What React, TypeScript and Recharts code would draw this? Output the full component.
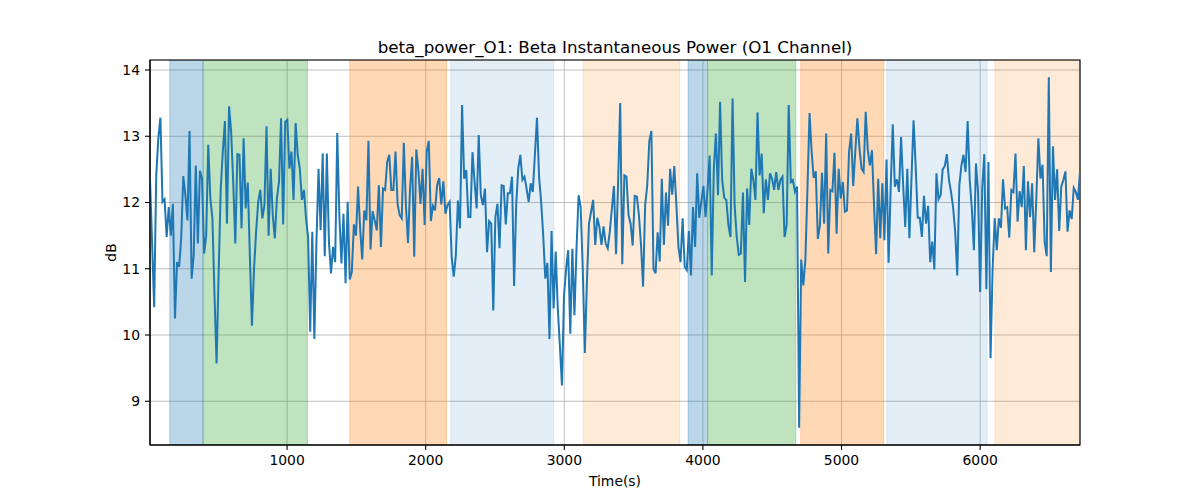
import React from "react";
import {
  ComposedChart,
  Line,
  XAxis,
  YAxis,
  CartesianGrid,
  ReferenceArea,
} from "recharts";

// ---- data ----
const T0 = 11;
const STEP = 15.01;

const powerDb: number[] = [
  12.35, 11.4, 10.42, 12.41, 12.97, 13.28, 12.01, 12.05, 11.48, 11.93,
  11.5, 11.98, 10.25, 11.1, 11.03, 11.46, 12.4, 12.11, 11.73, 13.08,
  10.85, 11.2, 12.56, 11.38, 12.48, 12.36, 11.23, 11.5, 12.87, 12.06,
  11.76, 10.6, 9.57, 10.95, 12.21, 12.77, 13.23, 11.68, 13.45, 13.07,
  12.31, 11.38, 12.73, 12.72, 11.61, 12.97, 11.91, 12.3, 11.2, 10.14,
  11.0, 11.56, 12.01, 12.19, 11.76, 11.96, 13.15, 11.5, 12.51, 11.81,
  11.46, 12.06, 12.31, 13.27, 11.67, 13.22, 13.25, 12.51, 12.77, 12.04,
  13.2, 12.72, 12.51, 12.04, 12.19, 11.76, 11.47, 10.05, 11.56, 9.94,
  11.41, 12.51, 11.58, 12.74, 11.19, 12.74, 11.41, 10.93, 11.33, 11.1,
  13.05, 11.81, 11.08, 11.83, 10.78, 12.01, 10.84, 10.95, 11.67, 11.5,
  12.24, 11.61, 11.14, 11.88, 11.73, 12.93, 11.29, 11.87, 11.73, 11.58,
  12.26, 11.33, 12.21, 12.19, 12.61, 12.72, 12.19, 12.19, 12.77, 11.98,
  11.81, 11.76, 12.9, 11.96, 11.39, 12.21, 12.69, 11.18, 12.8, 12.49,
  11.98, 12.51, 11.66, 12.77, 12.93, 11.72, 11.95, 11.88, 12.26, 12.37,
  11.97, 12.32, 11.83, 11.96, 12.01, 11.18, 10.88, 11.2, 12.03, 11.61,
  13.47, 12.36, 12.49, 11.78, 11.78, 12.76, 12.31, 11.91, 13.02, 12.11,
  11.96, 12.21, 11.25, 11.72, 11.68, 10.37, 11.78, 11.98, 11.31, 12.26,
  12.25, 11.67, 12.14, 12.14, 12.39, 10.74, 11.96, 12.51, 12.72, 12.34,
  12.39, 12.21, 12.01, 12.29, 12.16, 12.72, 13.28, 12.39, 12.01, 11.5,
  10.85, 11.09, 9.94, 11.57, 10.4, 11.26, 10.4, 9.84, 9.24, 10.6,
  11.0, 11.28, 10.02, 11.3, 10.3, 11.3, 12.11, 11.93, 11.0, 9.73,
  10.8, 11.68, 11.86, 12.04, 11.36, 11.77, 11.63, 11.36, 11.64, 11.38,
  11.31, 11.56, 11.91, 12.25, 11.22, 12.31, 13.5, 11.07, 12.41, 12.39,
  11.81, 11.68, 11.35, 12.1, 12.09, 11.81, 11.36, 10.73, 11.96, 12.26,
  12.93, 13.08, 11.0, 10.93, 11.55, 11.11, 12.36, 11.36, 12.15, 11.65,
  12.51, 12.12, 12.55, 11.96, 11.33, 11.1, 11.76, 11.03, 10.98, 11.57,
  10.9, 11.93, 11.33, 12.44, 11.77, 12.01, 12.25, 11.78, 12.21, 12.71,
  10.9, 12.51, 13.04, 12.11, 13.52, 12.34, 12.07, 12.04, 11.66, 11.48,
  13.57, 11.96, 11.48, 11.21, 11.23, 12.15, 10.8, 12.21, 11.66, 12.51,
  12.34, 12.04, 13.36, 12.41, 12.74, 11.84, 12.35, 12.04, 12.44, 12.36,
  12.19, 12.46, 12.19, 12.34, 12.39, 11.48, 11.66, 13.47, 12.31, 12.34,
  12.16, 12.24, 8.6, 11.14, 10.75, 11.13, 12.21, 13.35, 12.77, 12.37,
  12.47, 11.45, 11.66, 12.45, 11.68, 13.04, 11.23, 12.19, 12.17, 12.75,
  11.53, 12.51, 12.06, 12.31, 11.86, 11.88, 12.77, 13.04, 12.25, 12.77,
  13.27, 12.82, 12.51, 12.46, 13.37, 12.79, 12.56, 12.79, 11.96, 11.22,
  12.36, 11.46, 12.29, 11.43, 12.65, 11.09, 12.21, 13.18, 12.24, 12.35,
  12.16, 12.99, 12.26, 11.63, 12.51, 11.46, 12.36, 13.24, 12.56, 11.77,
  11.77, 11.48, 12.1, 11.68, 11.95, 11.1, 11.41, 10.99, 12.44, 12.05,
  12.11, 12.5, 12.55, 12.73, 12.34, 12.16, 11.93, 11.56, 10.9, 12.26,
  12.56, 12.72, 12.46, 13.23, 12.34, 11.91, 11.28, 12.59, 12.16, 10.65,
  12.21, 12.73, 10.69, 12.61, 9.65, 11.0, 11.76, 11.28, 11.76, 11.62,
  12.35, 11.91, 11.93, 11.47, 12.19, 12.16, 12.74, 11.71, 12.17, 11.93,
  12.55, 11.28, 12.32, 11.78, 12.29, 11.25, 12.06, 12.97, 12.36, 12.57,
  11.41, 11.19, 13.89, 10.95, 12.85, 12.04, 12.5, 11.57, 12.24, 12.34,
  12.47, 11.56, 11.88, 11.75, 12.22, 12.16, 12.04, 12.47,
];

const timeSec: number[] = powerDb.map((_, i) => T0 + i * STEP);

const spanStarts = [154, 394, 1452, 2181, 3136, 3893, 4035, 4706, 5327, 6106];
const spanEnds = [394, 1147, 2150, 2924, 3833, 4033, 4670, 5305, 6050, 6720];
const spanKinds = [
  "blue", "green", "orange", "lightblue", "lightorange",
  "blue", "green", "orange", "lightblue", "lightorange",
];

const xTicks = [1000, 2000, 3000, 4000, 5000, 6000];
const yTicks = [9, 10, 11, 12, 13, 14];

const TITLE = "beta_power_O1: Beta Instantaneous Power (O1 Channel)";
const X_LABEL = "Time(s)";
const Y_LABEL = "dB";

// ---- styles ----
const spanStyle: Record<string, { color: string; opacity: number }> = {
  blue: { color: "#1f77b4", opacity: 0.3 },
  green: { color: "#2ca02c", opacity: 0.3 },
  orange: { color: "#ff7f0e", opacity: 0.3 },
  lightblue: { color: "#1f77b4", opacity: 0.12 },
  lightorange: { color: "#ff7f0e", opacity: 0.16 },
};

const FONT = "DejaVu Sans, sans-serif";
const tickStyle = { fill: "#000", fontSize: 13.9, fontFamily: FONT };

const chartData = timeSec.map((t, i) => ({ time: t, power: powerDb[i] }));

const X_MIN = timeSec[0];
const X_MAX = timeSec[timeSec.length - 1];
const Y_MIN = 8.34;
const Y_MAX = 14.151;

export default function App() {
  return (
    <div
      style={{
        position: "absolute",
        left: 0,
        top: 0,
        width: 1200,
        height: 500,
        background: "#fff",
      }}
    >
      <ComposedChart
        width={1200}
        height={500}
        data={chartData}
        margin={{ top: 60, right: 120, bottom: 0, left: 0 }}
      >
        <CartesianGrid stroke="#b0b0b0" strokeWidth={0.8} />
        {spanStarts.map((s, i) => {
          const st = spanStyle[spanKinds[i]];
          return (
            <ReferenceArea
              key={"span" + i}
              x1={s}
              x2={spanEnds[i]}
              y1={Y_MIN}
              y2={Y_MAX}
              fill={st.color}
              fillOpacity={st.opacity}
              stroke={st.color}
              strokeOpacity={st.opacity}
              strokeWidth={1}
              ifOverflow="hidden"
            />
          );
        })}
        <XAxis
          dataKey="time"
          type="number"
          domain={[X_MIN, X_MAX]}
          ticks={xTicks}
          allowDataOverflow
          height={55}
          tick={tickStyle}
          tickSize={5}
          tickMargin={5}
          stroke="#000"
          axisLine={{ stroke: "#000", strokeWidth: 1.1 }}
          tickLine={{ stroke: "#000", strokeWidth: 1.1 }}
          label={{
            content: (props: any) => {
              const vb = props.viewBox || { x: 150, y: 445, width: 930, height: 55 };
              return (
                <text
                  x={vb.x + vb.width / 2}
                  y={vb.y + 41}
                  textAnchor="middle"
                  fontSize={13.9}
                  fontFamily={FONT}
                  fill="#000"
                >
                  {X_LABEL}
                </text>
              );
            },
          }}
        />
        <YAxis
          type="number"
          domain={[Y_MIN, Y_MAX]}
          ticks={yTicks}
          allowDataOverflow
          width={150}
          tick={tickStyle}
          tickSize={5}
          tickMargin={5}
          stroke="#000"
          axisLine={{ stroke: "#000", strokeWidth: 1.1 }}
          tickLine={{ stroke: "#000", strokeWidth: 1.1 }}
          label={{
            content: (props: any) => {
              const vb = props.viewBox || { x: 0, y: 60, width: 150, height: 385 };
              const cx = vb.x + vb.width - 34;
              const cy = vb.y + vb.height / 2;
              return (
                <text
                  x={cx}
                  y={cy}
                  textAnchor="middle"
                  transform={`rotate(-90 ${cx} ${cy})`}
                  fontSize={13.9}
                  fontFamily={FONT}
                  fill="#000"
                >
                  {Y_LABEL}
                </text>
              );
            },
          }}
        />
        <Line
          type="linear"
          dataKey="power"
          stroke="#1f77b4"
          strokeWidth={2}
          dot={false}
          activeDot={false}
          isAnimationActive={false}
        />
        <ReferenceArea
          x1={X_MIN}
          x2={X_MAX}
          y1={Y_MIN}
          y2={Y_MAX}
          fill="none"
          stroke="#000"
          strokeWidth={1.1}
          ifOverflow="visible"
        />
      </ComposedChart>
      <svg
        width={1200}
        height={60}
        style={{ position: "absolute", left: 0, top: 0, pointerEvents: "none" }}
      >
        <text
          x={615}
          y={53.3}
          textAnchor="middle"
          fontSize={16.7}
          fontFamily={FONT}
          fill="#000"
        >
          {TITLE}
        </text>
      </svg>
    </div>
  );
}
